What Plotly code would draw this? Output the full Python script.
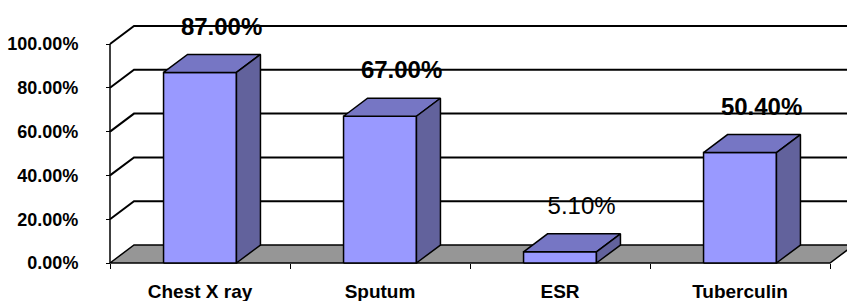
import plotly.graph_objects as go

# ---- data ----
categories = ["Chest X ray", "Sputum", "ESR", "Tuberculin"]
values = [0.87, 0.67, 0.051, 0.504]
y_ticks = [0.0, 0.2, 0.4, 0.6, 0.8, 1.0]
label_bold = [True, True, False, True]

# ---- style / geometry (data units) ----
BAR_W = 0.405          # fraction of a category
DX = 24 / 180          # depth offset in x (category units)
DY = 18 / 219          # depth offset in y (value units)
FRONT = "#9999ff"
TOP = "#7676c4"
SIDE = "#62629c"
FLOOR = "#969696"
FONT = "Liberation Sans, Arial, sans-serif"

W, H = 847, 301
ML, MR, MT, MB = 100, 0, 0, 30
PX_X = 180.0   # pixels per category
PX_Y = 219.0   # pixels per 1.0
x0_px = 110 - ML
y0_px = (H - MB) - 263
xr = [-x0_px / PX_X, (W - ML - MR - x0_px) / PX_X]
yr = [-y0_px / PX_Y, (H - MT - MB - y0_px) / PX_Y]

n = len(categories)
fig = go.Figure()

# back-wall gridlines (with depth diagonal at the left wall)
gx, gy = [], []
for t in y_ticks[1:]:
    gx += [0, DX, n + 1, None]
    gy += [t, t + DY, t + DY, None]
fig.add_trace(go.Scatter(x=gx, y=gy, mode="lines",
                         line=dict(color="black", width=2),
                         hoverinfo="skip", showlegend=False))

# floor
fig.add_trace(go.Scatter(x=[0, DX, n + DX, n, 0], y=[0, DY, DY, 0, 0],
                         mode="lines", fill="toself", fillcolor=FLOOR,
                         line=dict(color="black", width=1.5),
                         hoverinfo="skip", showlegend=False))

# front-left wall edge
fig.add_trace(go.Scatter(x=[0, 0], y=[0, y_ticks[-1]], mode="lines",
                         line=dict(color="black", width=1.5),
                         hoverinfo="skip", showlegend=False))

# bars (front, top, side faces)
for i, v in enumerate(values):
    c = i + 0.5
    a, b = c - BAR_W / 2, c + BAR_W / 2
    faces = [
        ([a, b, b, a, a], [0, 0, v, v, 0], FRONT),
        ([a, a + DX, b + DX, b, a], [v, v + DY, v + DY, v, v], TOP),
        ([b, b, b + DX, b + DX, b], [0, v, v + DY, DY, 0], SIDE),
    ]
    for fx, fy, col in faces:
        fig.add_trace(go.Scatter(x=fx, y=fy, mode="lines", fill="toself",
                                 fillcolor=col,
                                 line=dict(color="black", width=1.5),
                                 hoverinfo="skip", showlegend=False))

# data labels
texts = []
for v, bold in zip(values, label_bold):
    s = f"{v * 100:.2f}%"
    texts.append(f"<b>{s}</b>" if bold else s)
fig.add_trace(go.Scatter(
    x=[i + 0.5 + 0.12 for i in range(n)],
    y=[v + 0.20 for v in values],
    mode="text", text=texts, textposition="middle center",
    textfont=dict(family=FONT, size=24, color="black"),
    cliponaxis=False, hoverinfo="skip", showlegend=False))

fig.update_layout(
    width=W, height=H,
    margin=dict(l=ML, r=MR, t=MT, b=MB, pad=0),
    paper_bgcolor="white", plot_bgcolor="white",
    showlegend=False,
    xaxis=dict(range=xr, anchor="free", position=y0_px / (H - MT - MB),
               automargin=False,
               tickmode="array", tickvals=[i + 0.5 for i in range(n)],
               ticktext=categories, ticks="", showgrid=False,
               zeroline=False, showline=False,
               tickfont=dict(family=FONT, size=19, color="black", weight="bold"),
               ticklabelstandoff=15,
               minor=dict(tickmode="array", tickvals=list(range(n + 1)),
                          ticks="outside", ticklen=5, tickcolor="black",
                          tickwidth=1, showgrid=False)),
    yaxis=dict(range=yr, anchor="free", position=x0_px / (W - ML - MR),
               automargin=False,
               tickmode="array", tickvals=y_ticks, tickformat=".2%",
               ticks="outside", ticklen=4, tickcolor="black", tickwidth=1,
               showgrid=False, zeroline=False, showline=False,
               tickfont=dict(family=FONT, size=18, color="black", weight="bold"),
               ticklabelstandoff=24),
)

fig.write_html("out.html",
               config={"displayModeBar": False},
               post_script="document.body.style.margin='0px';"
                           "document.body.style.overflow='hidden';")
